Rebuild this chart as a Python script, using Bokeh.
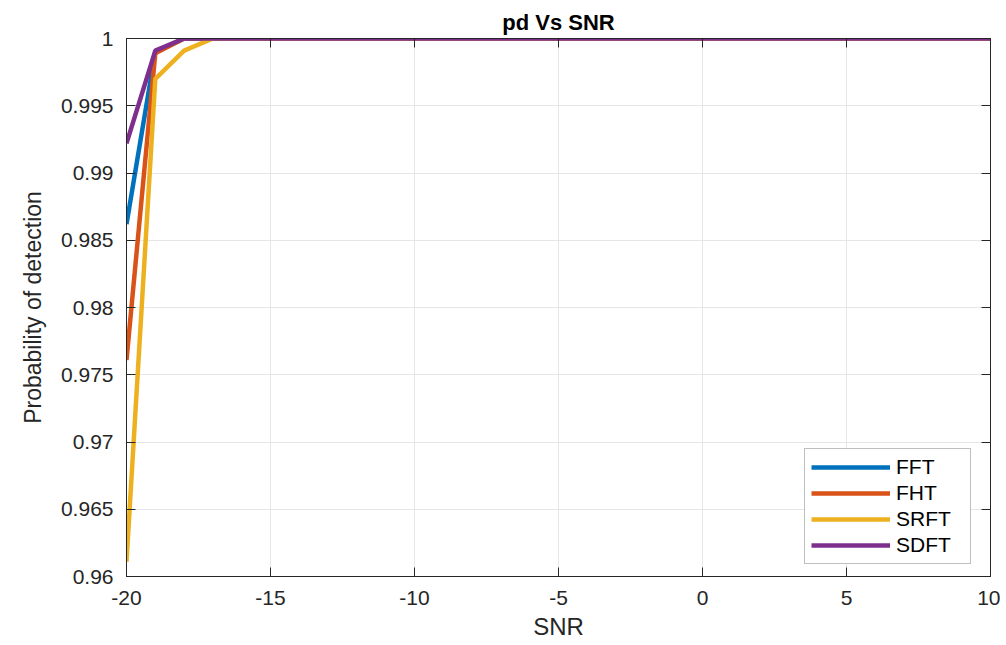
from bokeh.plotting import figure
from bokeh.models import (Range1d, FixedTicker, CustomJSTickFormatter, LinearAxis,
                          Legend, LegendItem)
from bokeh.embed import file_html
from bokeh.resources import INLINE

snr = [-20, -19, -18, -17, -16, -15, -14, -13, -12, -11, -10, -9, -8, -7, -6, -5,
       -4, -3, -2, -1, 0, 1, 2, 3, 4, 5, 6, 7, 8, 9, 10]
pd_fft = [0.9862, 0.9990, 1, 1, 1, 1, 1, 1, 1, 1, 1, 1, 1, 1, 1, 1,
          1, 1, 1, 1, 1, 1, 1, 1, 1, 1, 1, 1, 1, 1, 1]
pd_fht = [0.9761, 0.9989, 1, 1, 1, 1, 1, 1, 1, 1, 1, 1, 1, 1, 1, 1,
          1, 1, 1, 1, 1, 1, 1, 1, 1, 1, 1, 1, 1, 1, 1]
pd_srft = [0.9611, 0.9970, 0.9991, 1, 1, 1, 1, 1, 1, 1, 1, 1, 1, 1, 1, 1,
           1, 1, 1, 1, 1, 1, 1, 1, 1, 1, 1, 1, 1, 1, 1]
pd_sdft = [0.9922, 0.9991, 1, 1, 1, 1, 1, 1, 1, 1, 1, 1, 1, 1, 1, 1,
           1, 1, 1, 1, 1, 1, 1, 1, 1, 1, 1, 1, 1, 1, 1]

series_names = ["FFT", "FHT", "SRFT", "SDFT"]
series_colors = ["#0072BD", "#D95319", "#EDB120", "#7E2F8E"]

xticks = [-20, -15, -10, -5, 0, 5, 10]
xtick_labels = ["-20", "-15", "-10", "-5", "0", "5", "10"]
yticks = [0.96, 0.965, 0.97, 0.975, 0.98, 0.985, 0.99, 0.995, 1.0]
ytick_labels = ["0.96", "0.965", "0.97", "0.975", "0.98", "0.985", "0.99", "0.995", "1"]

FONT = "Liberation Sans"
DARK = "#262626"

p = figure(width=1000, height=642, output_backend="svg", toolbar_location=None,
           x_range=Range1d(-20, 10), y_range=Range1d(0.96, 1.0),
           min_border_left=126, min_border_right=10, min_border_top=38,
           min_border_bottom=62, title="pd Vs SNR")
p.outline_line_color = DARK
p.outline_line_width = 1
p.title.align = "center"
p.title.text_font = FONT
p.title.text_font_size = "22px"
p.title.text_font_style = "bold"
p.title.text_color = "#000000"
p.title.offset = 0
p.title.standoff = 8

fmt_code = """
let best = 0; let bd = Infinity;
for (let i = 0; i < tvals.length; i++) {
  const d = Math.abs(tvals[i] - tick);
  if (d < bd) { bd = d; best = i; }
}
return tlabels[best];
"""
xfmt = CustomJSTickFormatter(args=dict(tvals=xticks, tlabels=xtick_labels), code=fmt_code)
yfmt = CustomJSTickFormatter(args=dict(tvals=yticks, tlabels=ytick_labels), code=fmt_code)

for ax, tk, fm in ((p.xaxis[0], xticks, xfmt), (p.yaxis[0], yticks, yfmt)):
    ax.ticker = FixedTicker(ticks=tk)
    ax.formatter = fm
    ax.major_tick_in = 9
    ax.major_tick_out = 0
    ax.minor_tick_line_color = None
    ax.axis_line_color = DARK
    ax.major_tick_line_color = DARK
    ax.major_label_text_font = FONT
    ax.major_label_text_font_size = "21px"
    ax.major_label_text_color = DARK
    ax.axis_label_text_font = FONT
    ax.axis_label_text_font_size = "23px"
    ax.axis_label_text_font_style = "normal"
    ax.axis_label_text_color = DARK

p.xaxis[0].axis_label = "SNR"
p.xaxis[0].axis_label_text_font_size = "24px"
p.xaxis[0].major_label_standoff = 14
p.xaxis[0].axis_label_standoff = 5
p.yaxis[0].axis_label = "Probability of detection"
p.yaxis[0].major_label_standoff = 13
p.yaxis[0].axis_label_standoff = 12

# mirrored axes (box) with inward ticks, no labels
for loc, tk in (("right", yticks), ("above", xticks)):
    a = LinearAxis(ticker=FixedTicker(ticks=tk), major_label_text_font_size="0px",
                   major_tick_in=9, major_tick_out=0, minor_tick_line_color=None,
                   axis_line_color=DARK, major_tick_line_color=DARK,
                   major_label_standoff=0)
    p.add_layout(a, loc)

p.xgrid.ticker = FixedTicker(ticks=xticks)
p.ygrid.ticker = FixedTicker(ticks=yticks)
p.grid.grid_line_color = "#e6e6e6"
p.grid.grid_line_width = 1

items = []
for name, col, ys in zip(series_names, series_colors, [pd_fft, pd_fht, pd_srft, pd_sdft]):
    r = p.line(snr, ys, line_color=col, line_width=4.5)
    items.append(LegendItem(label=name, renderers=[r]))

legend = Legend(items=items, location=(678, 12))
legend.label_text_font = FONT
legend.label_text_font_size = "21px"
legend.label_text_color = "#000000"
legend.glyph_width = 79
legend.glyph_height = 20
legend.label_height = 20
legend.label_width = 68
legend.spacing = 2
legend.padding = 6
legend.margin = 0
legend.border_line_color = "#7f7f7f"
legend.border_line_width = 1
legend.label_standoff = 6
p.add_layout(legend, "center")

open("out.html", "w").write(file_html(p, INLINE))
